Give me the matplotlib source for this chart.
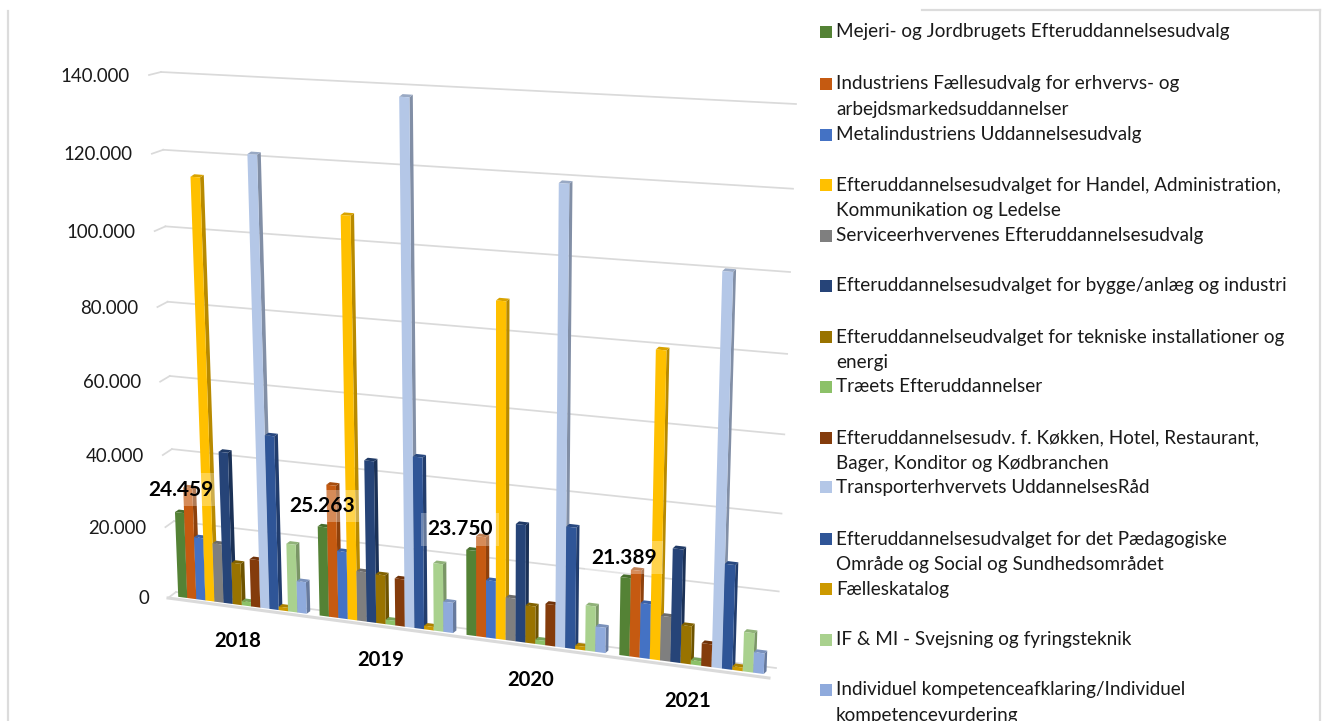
import numpy as np
import matplotlib
matplotlib.use("Agg")
import matplotlib.pyplot as plt
from matplotlib.transforms import Transform, IdentityTransform
from matplotlib.patches import Rectangle

plt.rcParams['font.family'] = ['Lato', 'DejaVu Sans']

years = ['2018', '2019', '2020', '2021']
grid_values = [0, 20000, 40000, 60000, 80000, 100000, 120000, 140000]
grid_labels = ['0', '20.000', '40.000', '60.000', '80.000', '100.000', '120.000', '140.000']
data_labels = ['24.459', '25.263', '23.750', '21.389']

mejeri = [24459, 25263, 23750, 21389]
industri = [31800, 37200, 27800, 23700]
metal = [17900, 19000, 16000, 15000]
handel = [117000, 110000, 91200, 82300]
service = [16800, 14000, 11900, 12200]
bygge = [43000, 45100, 32400, 30800]
tekniske = [11900, 13800, 10400, 10400]
traeets = [1200, 1300, 1200, 1200]
koekken = [13600, 13300, 11500, 6200]
transport = [124000, 141200, 122300, 103500]
paedagog = [49000, 47600, 33300, 28300]
faelles = [1000, 1000, 1000, 1000]
svejsning = [19300, 18900, 12500, 10700]
individuel = [9000, 8500, 7000, 5600]

series = [mejeri, industri, metal, handel, service, bygge, tekniske, traeets,
          koekken, transport, paedagog, faelles, svejsning, individuel]
colors = ['#548235', '#C55A11', '#4472C4', '#FFC000', '#7F7F7F', '#264478', '#997300',
          '#8CC168', '#843C0C', '#B4C7E7', '#2F5597', '#CC9900', '#A9D18E', '#8FAADC']
legend_labels = [
    'Mejeri- og Jordbrugets Efteruddannelsesudvalg',
    'Industriens Fællesudvalg for erhvervs- og\narbejdsmarkedsuddannelser',
    'Metalindustriens Uddannelsesudvalg',
    'Efteruddannelsesudvalget for Handel, Administration,\nKommunikation og Ledelse',
    'Serviceerhvervenes Efteruddannelsesudvalg',
    'Efteruddannelsesudvalget for bygge/anlæg og industri',
    'Efteruddannelseudvalget for tekniske installationer og\nenergi',
    'Træets Efteruddannelser',
    'Efteruddannelsesudv. f. Køkken, Hotel, Restaurant,\nBager, Konditor og Kødbranchen',
    'Transporterhvervets UddannelsesRåd',
    'Efteruddannelsesudvalget for det Pædagogiske\nOmråde og Social og Sundhedsområdet',
    'Fælleskatalog',
    'IF & MI - Svejsning og fyringsteknik',
    'Individuel kompetenceafklaring/Individuel\nkompetencevurdering',
]
legend_y = [32, 84, 134.5, 185, 235.5, 286, 337, 387, 438, 487, 539, 589, 640, 690]
LEGEND_STEP = 25.2
H = 721
W = 1323
XL, XR = -0.5, 3.5
BAR_W = 0.065


class Perspective(Transform):
    """Maps (category, value) to pixels on a plane given by four pixel corners."""
    input_dims = output_dims = 2
    is_separable = False
    has_inverse = False

    def __init__(self, bl, br, tl, tr):
        super().__init__()
        src = [(XL, 0), (XR, 0), (XL, 140000), (XR, 140000)]
        dst = [bl, br, tl, tr]
        A, b = [], []
        for (x, y), (u, v) in zip(src, dst):
            y = y / 140000
            v = H - v
            A.append([x, y, 1, 0, 0, 0, -u * x, -u * y])
            A.append([0, 0, 0, x, y, 1, -v * x, -v * y])
            b += [u, v]
        self.m = np.append(np.linalg.solve(np.array(A, float), np.array(b, float)), 1).reshape(3, 3)

    def transform_non_affine(self, values):
        p = np.asarray(values, float).reshape(-1, 2)
        q = np.c_[p[:, 0], p[:, 1] / 140000, np.ones(len(p))] @ self.m.T
        return q[:, :2] / q[:, 2:]


def darker(c, f):
    r = np.array(matplotlib.colors.to_rgb(c)) * f
    return tuple(r)


fig = plt.figure(figsize=(W / 100, H / 100), dpi=100, facecolor='white')
ax = fig.add_axes([0, 0, 1, 1])
ax.set_xlim(XL, XR)
ax.set_ylim(0, 140000)
ax.axis('off')

wall = Perspective((176, 592), (776, 668), (161, 72), (796, 104))
edge = Perspective((168, 598), (769, 678), (149, 75), (790, 110))
front = Perspective((172, 596), (771, 675), (152, 86), (790, 126))
back = Perspective((175.8, 593.5), (773.8, 672.2), (155.8, 83.5), (792.8, 123.2))
ident = IdentityTransform()
GRID = '#DADADA'

# frame of the chart object
for xs, ys in [((7.5, 7.5), (11, 721)), ((922, 1320), (9.5, 9.5)), ((1320, 1320), (9.5, 721))]:
    ax.plot(xs, [H - y for y in ys], color='#DCDCDC', lw=1.6, transform=ident, clip_on=False)

# gridlines on the back wall, with the slanted tick stubs on the left
for v, lab in zip(grid_values, grid_labels):
    ax.plot([XL, XR], [v, v], color=GRID, lw=1.25, transform=wall + ident, clip_on=False, zorder=1)
    a = wall.transform_non_affine([(XL, v)])[0]
    e = edge.transform_non_affine([(XL, v)])[0]
    ax.plot([a[0], e[0]], [a[1], e[1]], color=GRID, lw=1.25, transform=ident, clip_on=False, zorder=1)
    ax.text(e[0] - 19, e[1] - 1, lab, transform=ident, ha='right', va='center',
            fontsize=13.4, color='#1a1a1a')
ax.plot([XL, XR], [0, 0], color=GRID, lw=2.2, transform=edge + ident, clip_on=False, zorder=1)

# bars, left to right: side and top faces first, then the front
n = len(series)
for g in range(len(years)):
    for s in range(n):
        v = series[s][g]
        x0 = g - n * BAR_W / 2 + s * BAR_W
        x1 = x0 + BAR_W
        f = front.transform_non_affine([(x0, 0), (x1, 0), (x1, v), (x0, v)])
        b = back.transform_non_affine([(x0, 0), (x1, 0), (x1, v), (x0, v)])
        zo = 3 + g * 100 + s * 2
        ax.fill([f[1, 0], b[1, 0], b[2, 0], f[2, 0]], [f[1, 1], b[1, 1], b[2, 1], f[2, 1]],
                color=darker(colors[s], 0.72), lw=0, transform=ident, clip_on=False, zorder=zo)
        ax.fill([f[3, 0], f[2, 0], b[2, 0], b[3, 0]], [f[3, 1], f[2, 1], b[2, 1], b[3, 1]],
                color=darker(colors[s], 0.85), lw=0, transform=ident, clip_on=False, zorder=zo)
        ax.add_patch(Rectangle((x0, 0), BAR_W, v, fc=colors[s], ec='none',
                               transform=front + ident, clip_on=False, zorder=zo + 1))

# data labels with the translucent box
label_dx = [1, 0, -11, -2]
label_dy = [23, 21, 21, 20]
for g, t in enumerate(data_labels):
    x = g - n * BAR_W / 2 + BAR_W / 2
    ax.annotate(t, xy=(x, mejeri[g]), xycoords=front + ident,
                xytext=(label_dx[g] * 0.72, label_dy[g] * 0.72),
                textcoords='offset points', ha='center', va='center', fontsize=15, fontweight='bold',
                color='black', zorder=1000,
                bbox=dict(boxstyle='square,pad=0.3', fc='white', ec='none', alpha=0.3))

# category labels
cat_xy = [(238, 641), (381, 660), (531, 680), (688, 701)]
for (px, py), t in zip(cat_xy, years):
    ax.text(px, H - py, t, transform=ident, ha='center', va='center', fontsize=14.6,
            fontweight='bold', color='black', zorder=1000)

# legend
for c, lab, y in zip(colors, legend_labels, legend_y):
    ax.add_patch(Rectangle((820, H - y + 1 - 7), 12, 12, fc=c, ec='none', transform=ident, clip_on=False))
    for i, line in enumerate(lab.split('\n')):
        ax.text(836, H - y - i * LEGEND_STEP, line, transform=ident, ha='left', va='center',
                fontsize=13.6, color='#1a1a1a', clip_on=False)

fig.savefig('out.png', dpi=100, facecolor='white')
